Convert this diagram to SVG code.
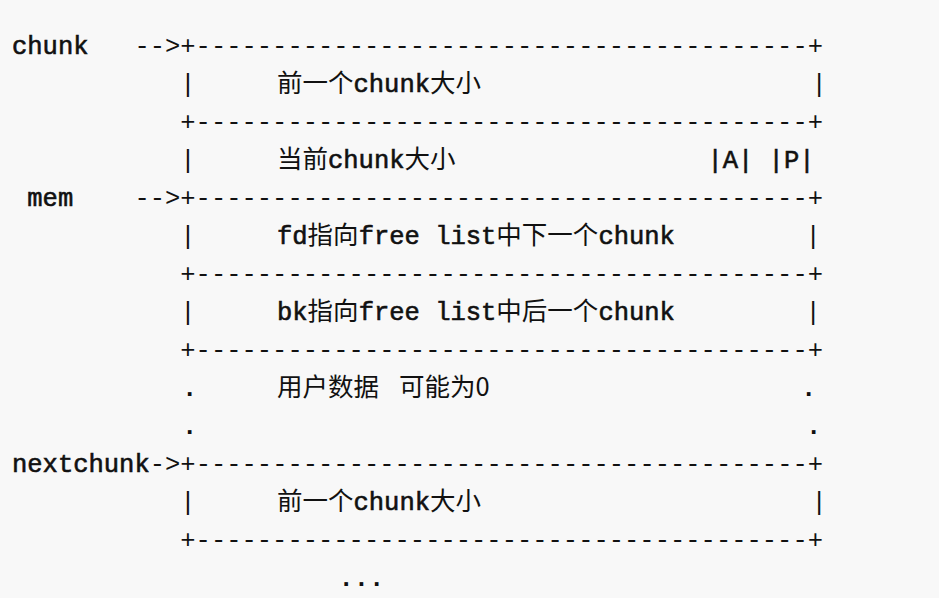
<svg xmlns="http://www.w3.org/2000/svg" width="939" height="598" viewBox="0 0 939 598">
<style>
  text { font-family: "Liberation Mono", "Noto Sans CJK SC", monospace; font-size: 25.5px; fill: #111111; white-space: pre; }
  .w { stroke: #111111; stroke-width: 0.6px; }
  .dot { font-weight: bold; }
  .cjk { font-family: "Noto Sans CJK SC", "Liberation Sans", sans-serif; stroke: none; }
</style>
<rect x="0" y="0" width="939" height="598" fill="#f8f8f8"/>
<g id="row1">
  <text class="w" x="12" y="54">chunk</text>
  <text x="134.4" y="54">--&gt;+----------------------------------------+</text>
</g>
<g id="row2">
  <text x="180.3" y="92">|</text>
  <text class="w" x="277" y="92"><tspan class="cjk">前一个</tspan>chunk<tspan class="cjk">大小</tspan></text>
  <text x="811.4" y="92">|</text>
</g>
<g id="row3">
  <text x="180.3" y="130">+----------------------------------------+</text>
</g>
<g id="row4">
  <text x="180.3" y="168">|</text>
  <text class="w" x="277" y="168"><tspan class="cjk">当前</tspan>chunk<tspan class="cjk">大小</tspan></text>
  <text class="w" x="707.4" y="168" xml:space="preserve">|A| |P|</text>
</g>
<g id="row5">
  <text class="w" x="27.3" y="206">mem</text>
  <text x="134.4" y="206">--&gt;+----------------------------------------+</text>
</g>
<g id="row6">
  <text x="180.3" y="244">|</text>
  <text class="w" x="277" y="244" xml:space="preserve">fd<tspan class="cjk">指向</tspan>free list<tspan class="cjk">中下一个</tspan>chunk</text>
  <text x="805.4" y="244">|</text>
</g>
<g id="row7">
  <text x="180.3" y="282">+----------------------------------------+</text>
</g>
<g id="row8">
  <text x="180.3" y="320">|</text>
  <text class="w" x="277" y="320" xml:space="preserve">bk<tspan class="cjk">指向</tspan>free list<tspan class="cjk">中后一个</tspan>chunk</text>
  <text x="805.4" y="320">|</text>
</g>
<g id="row9">
  <text x="180.3" y="358">+----------------------------------------+</text>
</g>
<g id="row10">
  <text class="dot" x="182" y="396">.</text>
  <text class="cjk" x="277" y="396">用户数据</text>
  <text class="cjk" x="399" y="396">可能为0</text>
  <text class="dot" x="801" y="396">.</text>
</g>
<g id="row11">
  <text class="dot" x="182" y="434">.</text>
  <text class="dot" x="806" y="434">.</text>
</g>
<g id="row12">
  <text x="12" y="472"><tspan class="w">nextchunk</tspan>-&gt;+----------------------------------------+</text>
</g>
<g id="row13">
  <text x="180.3" y="510">|</text>
  <text class="w" x="277" y="510"><tspan class="cjk">前一个</tspan>chunk<tspan class="cjk">大小</tspan></text>
  <text x="811.4" y="510">|</text>
</g>
<g id="row14">
  <text x="180.3" y="548">+----------------------------------------+</text>
</g>
<g id="row15">
  <text class="dot" x="338.4" y="586">...</text>
</g>
</svg>
